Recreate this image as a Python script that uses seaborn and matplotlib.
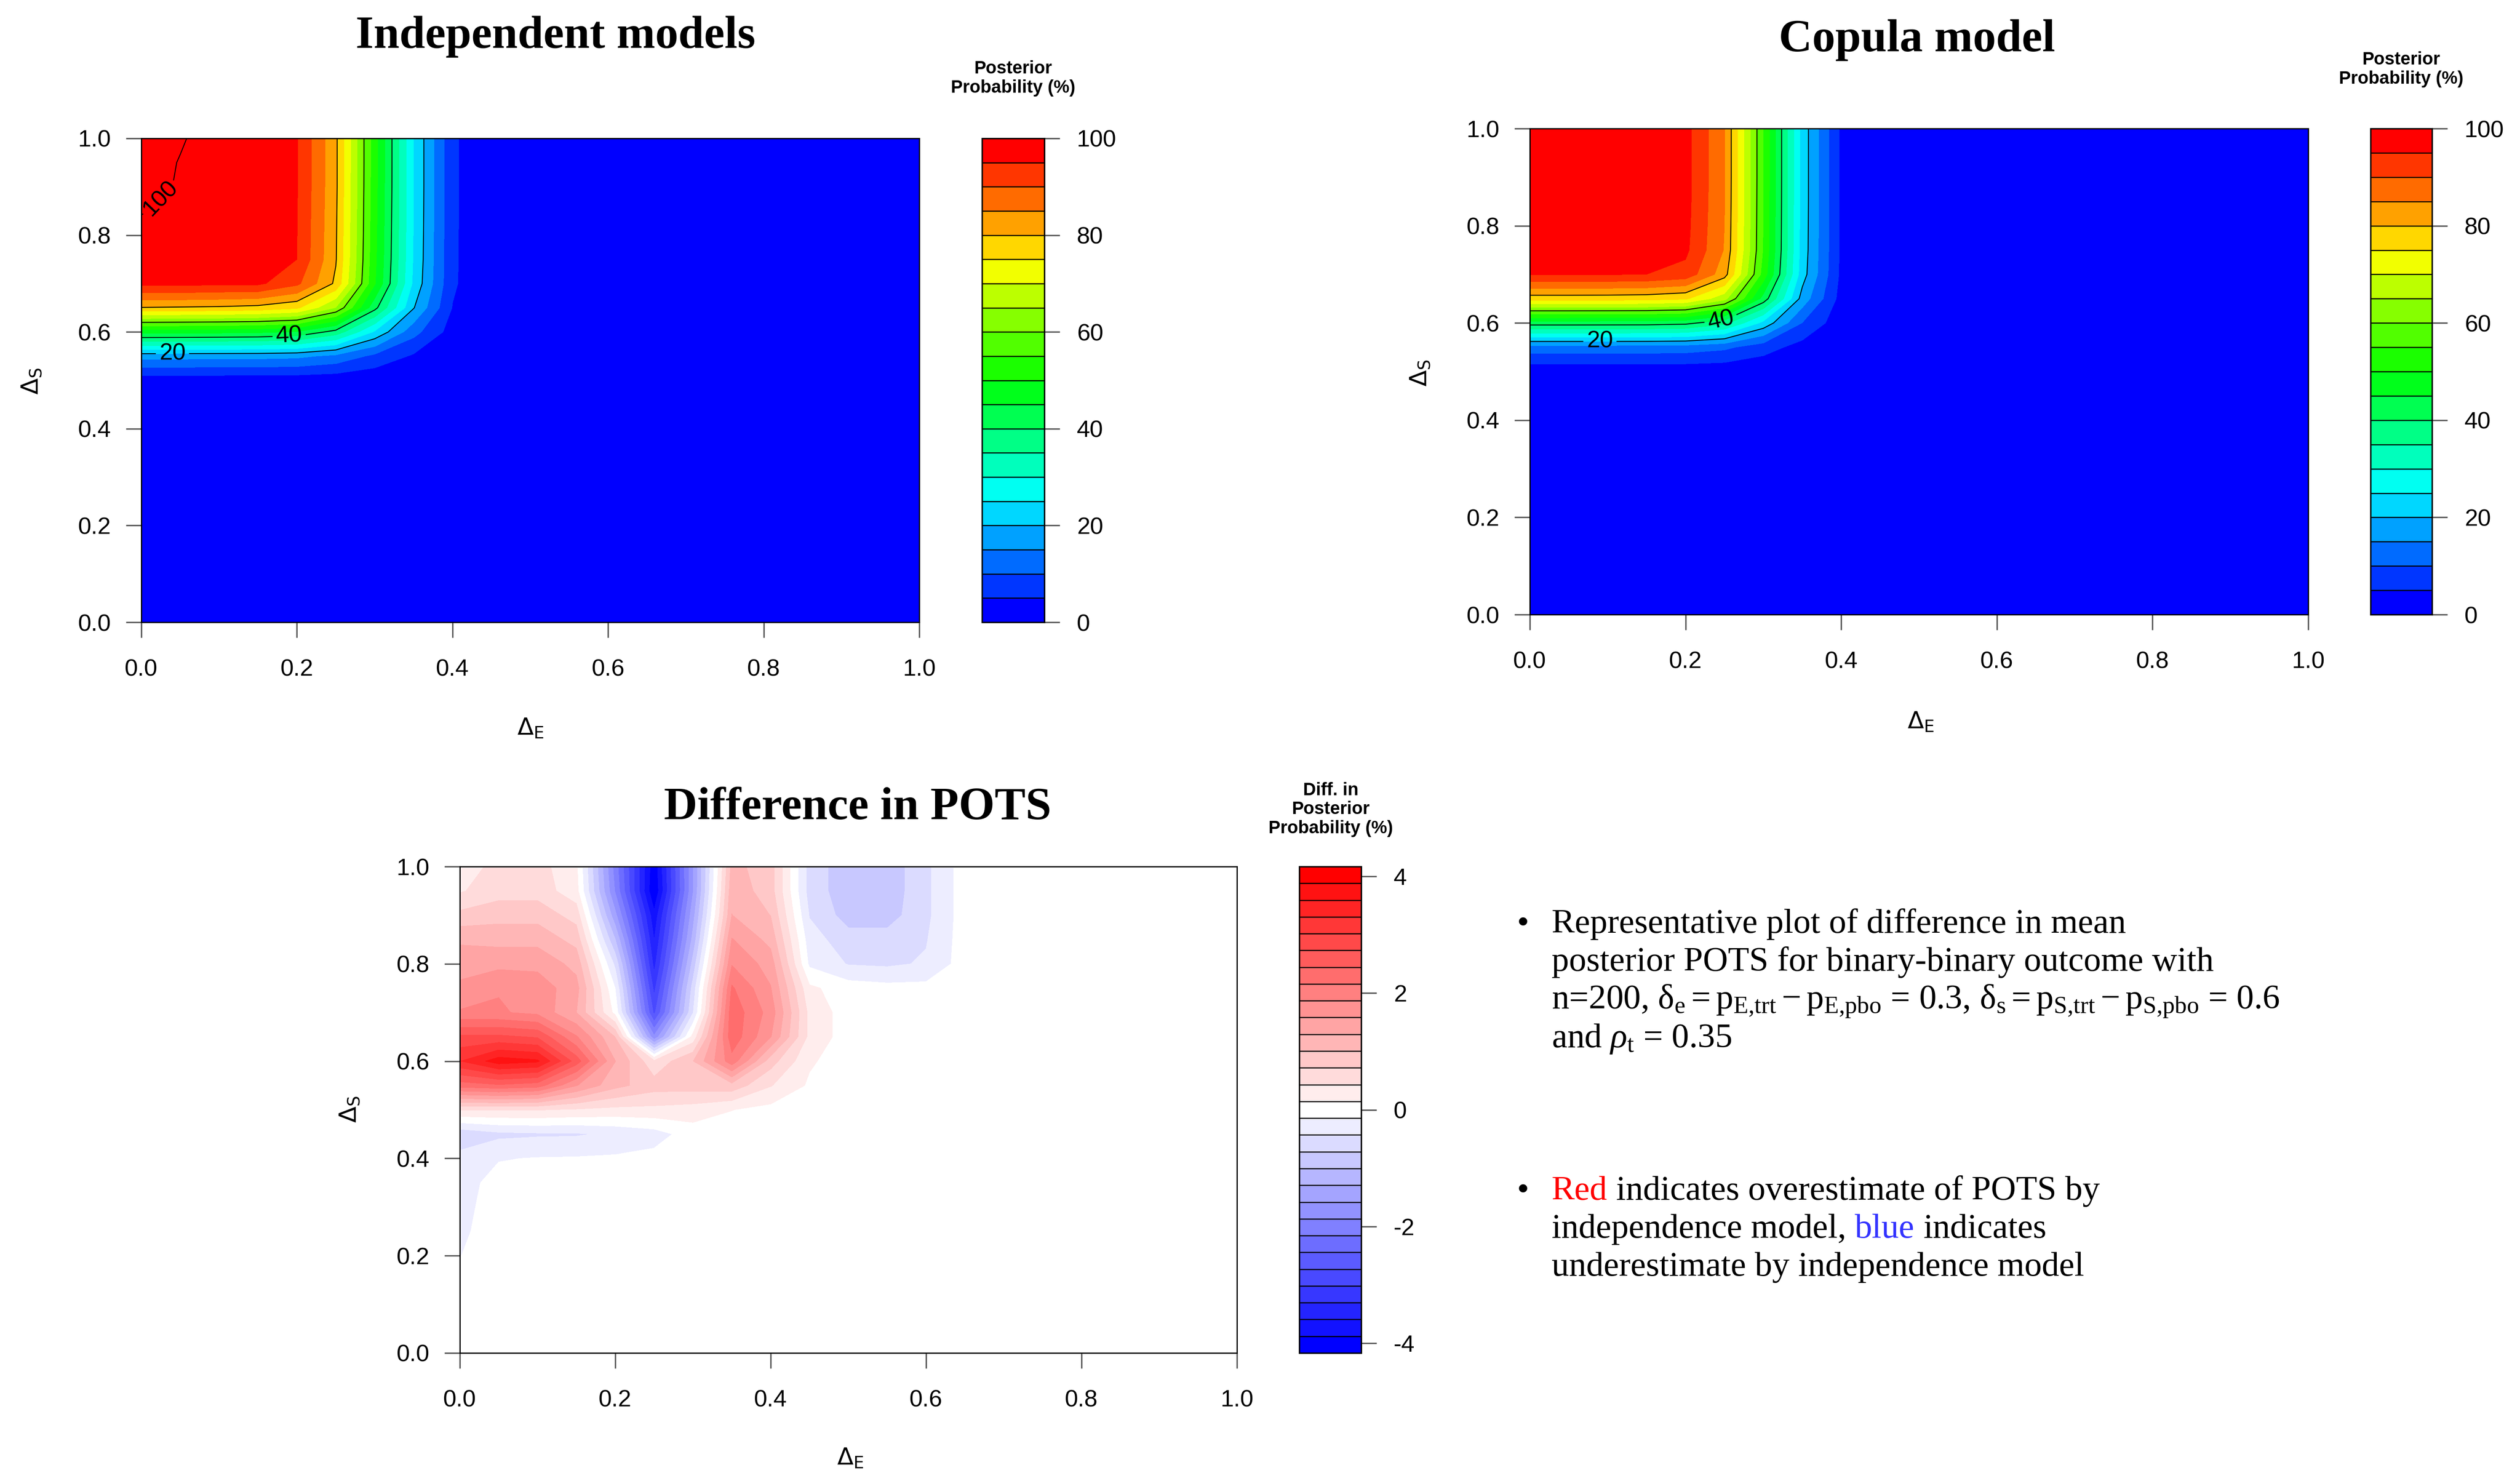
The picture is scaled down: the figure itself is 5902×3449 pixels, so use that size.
import colorsys
import numpy as np
import matplotlib
matplotlib.use("Agg")
import matplotlib.pyplot as plt
from matplotlib.colors import ListedColormap, LinearSegmentedColormap
import seaborn as sns

# simulation grid for the two effect sizes
delta_e = [0.0, 0.05, 0.1, 0.15, 0.2, 0.25, 0.3, 0.35, 0.4, 0.45, 0.5,
           0.55, 0.6, 0.65, 0.7, 0.75, 0.8, 0.85, 0.9, 0.95, 1.0]
delta_s = [0.0, 0.05, 0.1, 0.15, 0.2, 0.25, 0.3, 0.35, 0.4, 0.45, 0.5,
           0.55, 0.6, 0.65, 0.7, 0.75, 0.8, 0.85, 0.9, 0.95, 1.0]

# posterior POTS (%) in the upper left corner, rows delta_s = 1.0 .. 0.45,
# columns delta_e = 0.0 .. 0.45 (the rest of the grid is 0)
indep_block = [
    [100.0, 99.6, 99.0, 98.0, 95.4, 81.0, 52.0, 25.0, 6.0, 0.0],
    [100.0, 99.45, 99.0, 98.0, 95.4, 81.0, 52.0, 25.0, 6.0, 0.0],
    [99.9, 99.4, 98.9, 97.9, 95.3, 81.0, 51.9, 25.0, 6.0, 0.0],
    [99.6, 99.0, 98.5, 97.5, 95.2, 80.8, 51.7, 24.9, 6.0, 0.0],
    [99.0, 98.5, 98.0, 97.0, 95.1, 80.6, 51.5, 24.8, 5.9, 0.0],
    [98.5, 98.0, 97.5, 96.5, 95.0, 80.4, 51.2, 24.6, 5.9, 0.0],
    [96.5, 96.5, 96.0, 96.0, 91.2, 79.0, 50.5, 24.0, 5.8, 0.0],
    [79.8, 79.5, 79.2, 78.4, 76.0, 64.8, 41.6, 20.3, 4.8, 0.0],
    [47.0, 46.8, 46.5, 46.1, 44.7, 38.1, 24.4, 11.8, 2.8, 0.0],
    [17.0, 16.9, 16.8, 16.7, 16.2, 13.8, 8.8, 4.3, 1.0, 0.0],
    [2.0, 2.0, 2.0, 2.0, 1.9, 1.6, 1.0, 0.5, 0.1, 0.0],
    [0.0, 0.0, 0.0, 0.0, 0.0, 0.0, 0.0, 0.0, 0.0, 0.0],
]
copula_block = [
    [99.0, 99.0, 98.9, 98.5, 96.8, 85.3, 55.0, 23.0, 4.0, 0.0],
    [99.0, 99.0, 98.9, 98.5, 96.8, 85.3, 55.0, 23.0, 4.0, 0.0],
    [99.0, 99.0, 98.9, 98.5, 96.8, 85.3, 55.0, 23.0, 4.0, 0.0],
    [98.9, 98.9, 98.8, 98.4, 96.7, 85.2, 54.9, 23.0, 4.0, 0.0],
    [98.7, 98.7, 98.6, 98.2, 96.5, 85.0, 54.8, 22.9, 4.0, 0.0],
    [98.3, 98.3, 98.2, 97.8, 96.1, 84.7, 54.6, 22.8, 4.0, 0.0],
    [95.4, 95.4, 95.3, 95.0, 93.3, 82.2, 53.0, 22.2, 3.9, 0.0],
    [77.5, 77.5, 77.4, 77.1, 75.8, 66.8, 43.1, 18.0, 3.1, 0.0],
    [42.5, 42.5, 42.4, 42.3, 41.5, 36.6, 23.6, 9.9, 1.7, 0.0],
    [12.9, 12.9, 12.9, 12.8, 12.6, 11.1, 7.2, 3.0, 0.5, 0.0],
    [1.6, 1.6, 1.6, 1.6, 1.5, 1.4, 0.9, 0.4, 0.1, 0.0],
    [0.0, 0.0, 0.0, 0.0, 0.0, 0.0, 0.0, 0.0, 0.0, 0.0],
]
# difference in POTS (%), rows delta_s = 1.0 .. 0.15, columns delta_e = 0.0 .. 0.65
diff_block = [
    [0.15, 0.6, 0.55, 0.2, -2.0, -4.1, -1.6, 1.1, 0.85, -0.55, -0.9, -0.9, -0.5, 0.0],
    [0.4, 0.6, 0.6, 0.25, -1.9, -4.17, -1.6, 1.2, 0.85, -0.55, -0.9, -0.9, -0.5, 0.0],
    [0.8, 0.9, 0.9, 0.6, -1.5, -3.8, -1.4, 1.3, 1.0, -0.45, -0.85, -0.85, -0.5, 0.0],
    [1.25, 1.2, 1.2, 0.9, -1.0, -3.6, -1.2, 1.6, 1.2, -0.3, -0.6, -0.6, -0.45, 0.0],
    [1.45, 1.5, 1.5, 1.2, -0.5, -3.4, -0.9, 1.85, 1.45, -0.2, -0.45, -0.48, -0.4, 0.0],
    [1.65, 1.85, 1.75, 1.4, -0.15, -3.1, -0.6, 2.2, 1.6, 0.2, 0.0, -0.05, -0.05, 0.0],
    [1.9, 1.9, 1.8, 1.3, 0.05, -2.8, -0.45, 2.35, 1.75, 0.35, 0.0, 0.0, 0.0, 0.0],
    [2.8, 2.8, 2.7, 1.9, 1.0, -1.8, 0.25, 2.35, 1.6, 0.35, 0.0, 0.0, 0.0, 0.0],
    [3.3, 3.75, 3.65, 2.6, 1.3, 0.5, 1.0, 2.05, 0.85, 0.18, 0.0, 0.0, 0.0, 0.0],
    [2.3, 2.4, 2.3, 1.6, 1.1, 0.85, 0.85, 0.9, 0.45, 0.1, 0.0, 0.0, 0.0, 0.0],
    [0.45, 0.45, 0.45, 0.4, 0.35, 0.35, 0.3, 0.15, 0.05, 0.0, 0.0, 0.0, 0.0, 0.0],
    [-0.65, -0.5, -0.47, -0.46, -0.38, -0.27, 0.0, 0.0, 0.0, 0.0, 0.0, 0.0, 0.0, 0.0],
    [-0.32, -0.16, -0.13, -0.12, -0.1, -0.05, 0.0, 0.0, 0.0, 0.0, 0.0, 0.0, 0.0, 0.0],
    [-0.25, -0.05, 0.0, 0.0, 0.0, 0.0, 0.0, 0.0, 0.0, 0.0, 0.0, 0.0, 0.0, 0.0],
    [-0.22, -0.03, 0.0, 0.0, 0.0, 0.0, 0.0, 0.0, 0.0, 0.0, 0.0, 0.0, 0.0, 0.0],
    [-0.2, 0.0, 0.0, 0.0, 0.0, 0.0, 0.0, 0.0, 0.0, 0.0, 0.0, 0.0, 0.0, 0.0],
    [-0.15, 0.0, 0.0, 0.0, 0.0, 0.0, 0.0, 0.0, 0.0, 0.0, 0.0, 0.0, 0.0, 0.0],
    [0.0, 0.0, 0.0, 0.0, 0.0, 0.0, 0.0, 0.0, 0.0, 0.0, 0.0, 0.0, 0.0, 0.0],
]

axis_ticks = [0.0, 0.2, 0.4, 0.6, 0.8, 1.0]
prob_ticks = [0, 20, 40, 60, 80, 100]
diff_ticks = [-4, -2, 0, 2, 4]

sns.set_theme(style="ticks")
plt.rcParams["font.family"] = ["Liberation Sans", "DejaVu Sans"]
plt.rcParams["axes.unicode_minus"] = False
plt.rcParams["mathtext.fontset"] = "custom"
plt.rcParams["mathtext.rm"] = "Liberation Serif"
plt.rcParams["mathtext.it"] = "Liberation Serif:italic"
plt.rcParams["mathtext.bf"] = "Liberation Serif:bold"
for k in ["text.color", "axes.labelcolor", "xtick.labelcolor", "ytick.labelcolor"]:
    plt.rcParams[k] = "black"

W, H = 5902, 3449
TICK = 13.4


def full_grid(block):
    z = np.zeros((len(delta_s), len(delta_e)))
    b = np.array(block)[::-1]
    nr, nc = b.shape
    z[len(delta_s) - nr:, :nc] = b
    return z


z_indep = full_grid(indep_block)
z_copula = full_grid(copula_block)
z_diff = full_grid(diff_block)

# R rainbow(20, end=2/3), blue at the bottom
rainbow = ListedColormap([colorsys.hsv_to_rgb(h, 1, 1) for h in np.linspace(2 / 3, 0, 20)])
bwr_ramp = LinearSegmentedColormap.from_list("bwr29", ["#0000FF", "#FFFFFF", "#FF0000"], N=29)
bwr = ListedColormap(bwr_ramp(np.arange(29)))
prob_levels = np.linspace(0, 100, 21)
zmax = np.abs(z_diff).max()
diff_levels = np.linspace(-zmax, zmax, 30)

fig = plt.figure(figsize=(W / 300, H / 300), dpi=300)


def box(l, t, r, b):
    # pixel box -> figure fraction
    return [l / W, 1 - b / H, (r - l) / W, (b - t) / H]


def style_axes(ax):
    ax.set_xticks(axis_ticks)
    ax.set_yticks(axis_ticks)
    ax.tick_params(axis="x", length=8.6, width=0.8, color="0.35", pad=12, labelsize=TICK,
                   labelcolor="black")
    ax.tick_params(axis="y", length=8.6, width=0.8, color="0.35", pad=8.4, labelsize=TICK,
                   labelcolor="black")
    for s in ax.spines.values():
        s.set_linewidth(0.7)
        s.set_color("black")


def add_key(cax, cf, ticks):
    cb = fig.colorbar(cf, cax=cax, ticks=ticks, drawedges=True)
    cb.outline.set_linewidth(0.8)
    cb.outline.set_edgecolor("black")
    cb.dividers.set_color("black")
    cb.dividers.set_linewidth(0.6)
    cax.tick_params(length=8.6, width=0.8, color="0.35", pad=9.6, labelsize=TICK,
                    labelcolor="black")
    return cb


def prob_panel(ax, cax, z, plain_levels, label_levels, label_pos):
    cf = ax.contourf(delta_e, delta_s, z, levels=prob_levels, cmap=rainbow)
    ax.contour(delta_e, delta_s, z, levels=plain_levels, colors="black", linewidths=0.5)
    cs = ax.contour(delta_e, delta_s, z, levels=label_levels, colors="black", linewidths=0.5)
    fmt = {lev: str(int(round(lev))) for lev in label_levels}
    ax.clabel(cs, fmt=fmt, fontsize=TICK, inline=True, inline_spacing=8, manual=label_pos)
    style_axes(ax)
    add_key(cax, cf, prob_ticks)


ax1 = fig.add_axes(box(331, 324, 2153, 1457))
cax1 = fig.add_axes(box(2300, 324, 2446, 1457))
prob_panel(ax1, cax1, z_indep, [60, 80], [20, 40, 99.5],
           [(0.025, 0.875), (0.19, 0.59), (0.04, 0.556)])

ax2 = fig.add_axes(box(3583, 301, 5406, 1439))
cax2 = fig.add_axes(box(5552, 301, 5696, 1439))
prob_panel(ax2, cax2, z_copula, [60, 80], [20, 40],
           [(0.245, 0.615), (0.09, 0.562)])

ax3 = fig.add_axes(box(1077, 2029, 2897, 3168))
cax3 = fig.add_axes(box(3043, 2029, 3188, 3168))
cf3 = ax3.contourf(delta_e, delta_s, z_diff, levels=diff_levels, cmap=bwr)
style_axes(ax3)
add_key(cax3, cf3, diff_ticks)

# titles
title_kw = dict(ha="center", va="baseline", fontsize=26, fontweight="bold", color="black",
                family=["Liberation Serif", "DejaVu Serif"])
fig.text(1301 / W, 1 - 112 / H, "Independent models", **title_kw)
fig.text(4490 / W, 1 - 120 / H, "Copula model", **title_kw)
fig.text(2009 / W, 1 - 1918 / H, "Difference in POTS", **title_kw)

key_kw = dict(ha="center", va="bottom", fontsize=10, fontweight="bold", color="black",
              multialignment="center", linespacing=1.15)
fig.text(2373 / W, 1 - 226 / H, "Posterior\nProbability (%)", **key_kw)
fig.text(5624 / W, 1 - 205 / H, "Posterior\nProbability (%)", **key_kw)
fig.text(3117 / W, 1 - 1960 / H, "Diff. in\nPosterior\nProbability (%)", **key_kw)

# axis labels
lab_kw = dict(ha="center", va="center", fontsize=TICK, color="black",
              math_fontfamily="dejavusans")
fig.text(1242 / W, 1 - 1705 / H, r"$\Delta_\mathrm{E}$", **lab_kw)
fig.text(75 / W, 1 - 892 / H, r"$\Delta_\mathrm{S}$", rotation=90, **lab_kw)
fig.text(4498 / W, 1 - 1690 / H, r"$\Delta_\mathrm{E}$", **lab_kw)
fig.text(3327 / W, 1 - 873 / H, r"$\Delta_\mathrm{S}$", rotation=90, **lab_kw)
fig.text(1991 / W, 1 - 3414 / H, r"$\Delta_\mathrm{E}$", **lab_kw)
fig.text(820 / W, 1 - 2597 / H, r"$\Delta_\mathrm{S}$", rotation=90, **lab_kw)

# bullet text on the lower right
axt = fig.add_axes([0, 0, 1, 1])
axt.set_axis_off()
txt_kw = dict(fontsize=19.5, family=["Liberation Serif", "DejaVu Serif"], color="black")
SP = 19.5 * 0.25
bx, tx = 3553 / W, 3634 / W


def line(y, parts):
    s, c = parts[0]
    t = axt.text(tx, y, s, transform=axt.transAxes, va="baseline", ha="left",
                 **{**txt_kw, "color": c})
    for s, c in parts[1:]:
        t = axt.annotate(s, xy=(1, 0), xycoords=t, xytext=(SP, 0),
                         textcoords="offset points", va="bottom", ha="left",
                         **{**txt_kw, "color": c})


y1 = [2184, 2273, 2362, 2452]
para1 = ["Representative plot of difference in mean",
         "posterior POTS for binary-binary outcome with",
         r"n=200, $\mathrm{\delta_e = p_{E{,}trt} - p_{E{,}pbo}}$ = 0.3, "
         r"$\mathrm{\delta_s = p_{S{,}trt} - p_{S{,}pbo}}$ = 0.6",
         r"and $\rho_\mathrm{t}$ = 0.35"]
axt.text(bx, 1 - y1[0] / H, "\u2022", transform=axt.transAxes, va="baseline", **txt_kw)
for yy, s in zip(y1, para1):
    line(1 - yy / H, [(s, "black")])

y2 = [2809, 2898, 2987]
axt.text(bx, 1 - y2[0] / H, "\u2022", transform=axt.transAxes, va="baseline", **txt_kw)
line(1 - y2[0] / H, [("Red", "#FF0000"), ("indicates overestimate of POTS by", "black")])
line(1 - y2[1] / H, [("independence model,", "black"), ("blue", "#3333FF"),
                     ("indicates", "black")])
line(1 - y2[2] / H, [("underestimate by independence model", "black")])

fig.savefig("out.png", dpi=300)
